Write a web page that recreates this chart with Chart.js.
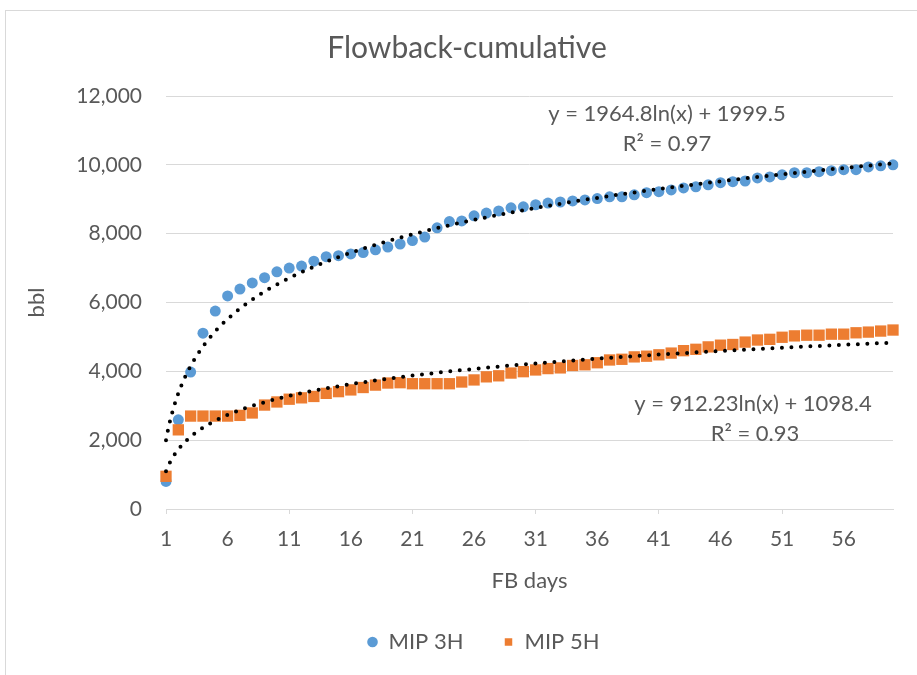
<!DOCTYPE html>
<html>
<head>
<meta charset="utf-8">
<script src="https://cdn.jsdelivr.net/npm/chart.js@4.4.0/dist/chart.umd.min.js"></script>
<style>
  html, body { margin: 0; padding: 0; background: #fff; overflow: hidden; }
  #frame { position: absolute; left: 5px; top: 10px; width: 962px; height: 700px; border: 1px solid #d9d9d9; }
  #chart { position: absolute; left: 0; top: 0; }
</style>
</head>
<body>
<div id="frame"><canvas id="chart" width="962" height="664"></canvas></div>
<script>
// FB days 1..60
const days = [1, 2, 3, 4, 5, 6, 7, 8, 9, 10, 11, 12, 13, 14, 15, 16, 17, 18, 19, 20,
  21, 22, 23, 24, 25, 26, 27, 28, 29, 30, 31, 32, 33, 34, 35, 36, 37, 38, 39, 40,
  41, 42, 43, 44, 45, 46, 47, 48, 49, 50, 51, 52, 53, 54, 55, 56, 57, 58, 59, 60];

// cumulative flowback, bbl
const mip3h = [800, 2590, 3980, 5110, 5750, 6190, 6390, 6570, 6720, 6890,
  7000, 7060, 7200, 7330, 7360, 7410, 7450, 7530, 7610, 7700,
  7800, 7900, 8170, 8350, 8370, 8520, 8600, 8660, 8750, 8780,
  8840, 8890, 8920, 8950, 8980, 9020, 9070, 9070, 9130, 9190,
  9220, 9270, 9330, 9360, 9420, 9480, 9510, 9530, 9620, 9650,
  9710, 9770, 9770, 9800, 9830, 9860, 9860, 9940, 9970, 10000];
const mip5h = [950, 2300, 2700, 2700, 2700, 2700, 2720, 2790, 3020, 3110,
  3190, 3230, 3270, 3360, 3410, 3460, 3530, 3600, 3660, 3670,
  3640, 3640, 3640, 3640, 3690, 3750, 3840, 3870, 3950, 3990,
  4040, 4080, 4100, 4170, 4190, 4250, 4330, 4350, 4420, 4440,
  4480, 4530, 4600, 4640, 4710, 4760, 4780, 4850, 4910, 4930,
  4990, 5030, 5050, 5050, 5080, 5080, 5120, 5140, 5170, 5200];

// log trendlines y = a ln(x) + b  [MIP 3H, MIP 5H]
const trendA = [1964.8, 912.23];
const trendB = [1999.5, 1098.4];
const trendLabels = [['y = 1964.8ln(x) + 1999.5', 'R\u00B2 = 0.97'], ['y = 912.23ln(x) + 1098.4', 'R\u00B2 = 0.93']];

const yTicks = [0, 2000, 4000, 6000, 8000, 10000, 12000];

const grey = '#595959';
const font = 'Lato';

// trendlines, equations and title
const extras = {
  id: 'extras',
  afterDatasetsDraw(chart) {
    const ctx = chart.ctx;
    const xs = chart.scales.x, ys = chart.scales.y;
    ctx.save();
    ctx.strokeStyle = '#000';
    ctx.lineWidth = 4;
    ctx.lineCap = 'round';
    ctx.setLineDash([0, 9.5]);
    for (let t = 0; t < trendA.length; t++) {
      ctx.beginPath();
      for (let d = 1; d <= days[days.length - 1] + 0.001; d += 0.05) {
        const px = xs.getPixelForValue(d - 1);
        const py = ys.getPixelForValue(trendA[t] * Math.log(d) + trendB[t]);
        if (d === 1) ctx.moveTo(px, py); else ctx.lineTo(px, py);
      }
      ctx.stroke();
    }
    ctx.restore();

    ctx.save();
    ctx.fillStyle = grey;
    ctx.textAlign = 'center';
    ctx.textBaseline = 'middle';
    ctx.font = '22px ' + font;
    ctx.fillText(trendLabels[0][0], 661, 103);
    ctx.fillText(trendLabels[0][1], 661, 133);
    ctx.fillText(trendLabels[1][0], 747, 393);
    ctx.fillText(trendLabels[1][1], 749, 423);
    ctx.font = '30px ' + font;
    ctx.fillText('Flowback-cumulative', 461, 37);
    ctx.restore();
  }
};

new Chart(document.getElementById('chart'), {
  type: 'line',
  data: {
    labels: days,
    datasets: [
      {
        label: 'MIP 5H',
        data: mip5h,
        showLine: false,
        pointStyle: 'rect',
        pointRadius: 8,
        pointBorderWidth: 0,
        pointBackgroundColor: '#ed7d31',
        backgroundColor: '#ed7d31',
        borderColor: '#ed7d31'
      },
      {
        label: 'MIP 3H',
        data: mip3h,
        showLine: false,
        pointStyle: 'circle',
        pointRadius: 5.5,
        pointBorderWidth: 0,
        pointBackgroundColor: '#5b9bd5',
        backgroundColor: '#5b9bd5',
        borderColor: '#5b9bd5'
      }
    ]
  },
  options: {
    responsive: false,
    animation: false,
    layout: { padding: { top: 85, left: 68, right: 75, bottom: 12 } },
    plugins: {
      tooltip: { enabled: false },
      title: { display: false },
      legend: {
        position: 'bottom',
        reverse: true,
        labels: {
          usePointStyle: true,
          boxWidth: 10,
          boxHeight: 7.5,
          padding: 40,
          color: grey,
          font: { family: font, size: 22 }
        }
      }
    },
    scales: {
      x: {
        type: 'category',
        offset: false,
        afterFit(scale) { scale.height = 82; },
        grid: {
          drawOnChartArea: false,
          drawTicks: true,
          tickLength: 5,
          color: (c) => (c.index % 10 === 0 ? '#d9d9d9' : 'rgba(0,0,0,0)')
        },
        border: { display: true, color: '#d9d9d9' },
        ticks: {
          autoSkip: false,
          maxRotation: 0,
          padding: 13,
          color: grey,
          font: { family: font, size: 21 },
          callback: (v, i) => (i % 5 === 0 ? days[i] : '')
        },
        title: {
          display: true,
          text: 'FB days',
          color: grey,
          font: { family: font, size: 22 },
          padding: { top: 0, bottom: -3 }
        }
      },
      y: {
        min: 0,
        max: 12000,
        afterFit(scale) { scale.width = 92; },
        afterBuildTicks(scale) { scale.ticks = yTicks.map(v => ({ value: v })); },
        grid: { color: '#d9d9d9', drawTicks: false },
        border: { display: false },
        ticks: {
          padding: 24,
          color: grey,
          font: { family: font, size: 21 },
          callback: (v) => v.toLocaleString('en-US')
        },
        title: {
          display: true,
          text: 'bbl',
          color: grey,
          font: { family: font, size: 22 },
          padding: { top: -50, bottom: 0 }
        }
      }
    }
  },
  plugins: [extras]
});
</script>
</body>
</html>
